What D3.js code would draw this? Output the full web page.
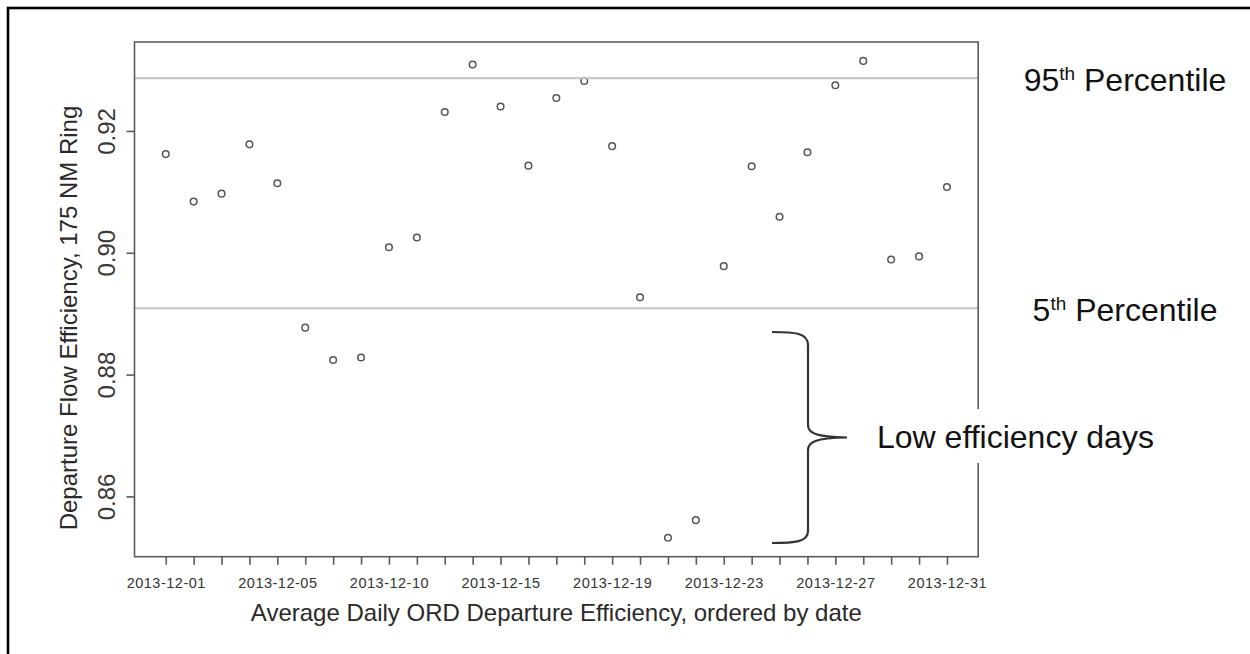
<!DOCTYPE html>
<html lang="en">
<head>
    <meta charset="UTF-8">
    <script src="https://d3js.org/d3.v7.min.js"></script>
    <title>ORD Departure Efficiency</title>
    <style>
        body { margin: 0; background: #fff; }
        svg { display: block; font-family: "Liberation Sans", Arial, sans-serif; }
    </style>
</head>
<body>
    <script>
        // dates, ordered (only every 4th one gets a label on the axis)
        var dates = ["2013-12-01", "2013-12-02", "2013-12-03", "2013-12-04", "2013-12-05",
            "2013-12-06", "2013-12-07", "2013-12-09", "2013-12-10", "2013-12-11",
            "2013-12-12", "2013-12-13", "2013-12-15", "2013-12-16", "2013-12-17",
            "2013-12-18", "2013-12-19", "2013-12-20", "2013-12-21", "2013-12-22",
            "2013-12-23", "2013-12-24", "2013-12-25", "2013-12-26", "2013-12-27",
            "2013-12-28", "2013-12-29", "2013-12-30", "2013-12-31"];

        var efficiency = [0.9162, 0.9084, 0.9097, 0.9178, 0.9114, 0.8877, 0.8824, 0.8828,
            0.9009, 0.9025, 0.9231, 0.9309, 0.9240, 0.9143, 0.9254, 0.9282, 0.9175,
            0.8927, 0.8532, 0.8561, 0.8978, 0.9142, 0.9059, 0.9165, 0.9275, 0.9315,
            0.8989, 0.8994, 0.9108];

        var yTicks = [0.86, 0.88, 0.90, 0.92];
        var labelEvery = 4;

        var percentiles = [
            { name: "95", value: 0.92865 },
            { name: "5", value: 0.8909 }
        ];

        var width = 1250,
            height = 654;

        var svg = d3.select("body").append("svg")
            .attr("width", width)
            .attr("height", height);

        // cadre noir (haut et gauche visibles)
        svg.append("rect")
            .attr("x", 8).attr("y", 8)
            .attr("width", 1300).attr("height", 700)
            .attr("fill", "none")
            .attr("stroke", "#000")
            .attr("stroke-width", 2.6);

        var box = { left: 134.5, right: 978.2, top: 42, bottom: 556.7 };

        // R-style 4% padding
        var n = dates.length - 1;
        var x = d3.scaleLinear()
            .domain([-0.04 * n, n + 0.04 * n])
            .range([box.left, box.right]);

        var y = d3.scaleLinear()
            .domain([0.8501, 0.9346])
            .range([box.bottom, box.top]);

        // points
        svg.append("g").selectAll("circle")
            .data(efficiency)
            .join("circle")
            .attr("cx", (d, i) => x(i))
            .attr("cy", d => y(d))
            .attr("r", 3.3)
            .attr("fill", "none")
            .attr("stroke", "#555")
            .attr("stroke-width", 1.5);

        // lignes des percentiles
        svg.append("g").selectAll("line")
            .data(percentiles)
            .join("line")
            .attr("x1", box.left).attr("x2", box.right)
            .attr("y1", d => y(d.value)).attr("y2", d => y(d.value))
            .attr("stroke", "#c4c4c4")
            .attr("stroke-width", 2);

        // boite
        svg.append("rect")
            .attr("x", box.left).attr("y", box.top)
            .attr("width", box.right - box.left).attr("height", box.bottom - box.top)
            .attr("fill", "none")
            .attr("stroke", "#5a5a5a")
            .attr("stroke-width", 1.6);

        // axe x
        var xAxis = d3.axisBottom(x)
            .tickValues(d3.range(dates.length))
            .tickFormat(i => i % labelEvery === 0 ? dates[i] : "")
            .tickSize(8)
            .tickPadding(13);

        var gx = svg.append("g")
            .attr("transform", `translate(0,${box.bottom})`)
            .call(xAxis);
        gx.select(".domain").remove();
        gx.selectAll(".tick line").attr("stroke", "#5a5a5a").attr("stroke-width", 1.6);
        gx.selectAll(".tick text")
            .attr("fill", "#333")
            .style("font-size", "14.5px")
            .style("letter-spacing", "0.5px")
            .style("font-family", "\"Liberation Sans\", Arial, sans-serif");

        // axe y
        var yAxis = d3.axisLeft(y)
            .tickValues(yTicks)
            .tickFormat(d3.format(".2f"))
            .tickSize(8);

        var gy = svg.append("g")
            .attr("transform", `translate(${box.left},0)`)
            .call(yAxis);
        gy.select(".domain").remove();
        gy.selectAll(".tick line").attr("stroke", "#5a5a5a").attr("stroke-width", 1.6);
        gy.selectAll(".tick text")
            .attr("x", null).attr("dy", null)
            .attr("transform", "translate(-20,0) rotate(-90)")
            .attr("text-anchor", "middle")
            .attr("fill", "#3a3a3a")
            .style("font-size", "24px")
            .style("font-family", "\"Liberation Sans\", Arial, sans-serif");

        // titres des axes
        svg.append("text")
            .attr("x", (box.left + box.right) / 2)
            .attr("y", 621)
            .attr("text-anchor", "middle")
            .attr("fill", "#2a2a2a")
            .style("font-size", "24px")
            .text("Average Daily ORD Departure Efficiency, ordered by date");

        svg.append("text")
            .attr("transform", "translate(77,318) rotate(-90)")
            .attr("text-anchor", "middle")
            .attr("fill", "#2a2a2a")
            .style("font-size", "24px")
            .text("Departure Flow Efficiency, 175 NM Ring");

        // étiquettes des percentiles
        var pl = svg.append("g").selectAll("text")
            .data(percentiles)
            .join("text")
            .attr("x", 1125)
            .attr("y", d => y(d.value) + 13)
            .attr("text-anchor", "middle")
            .attr("fill", "#111")
            .style("font-size", "32px");
        pl.append("tspan").text(d => d.name);
        pl.append("tspan").attr("dy", -11).style("font-size", "19px").text("th");
        pl.append("tspan").attr("dy", 11).text(" Percentile");

        // accolade + texte
        svg.append("path")
            .attr("d", "M772,332 C795,332 808,333 808,345 L808,425 C808,433 815,437 847,437.5 " +
                "C815,438 808,442 808,450 L808,531 C808,542 795,543 772,543")
            .attr("fill", "none")
            .attr("stroke", "#333")
            .attr("stroke-width", 2.2);

        svg.append("rect")
            .attr("x", 868).attr("y", 409)
            .attr("width", 295).attr("height", 54)
            .attr("fill", "#fff");

        svg.append("text")
            .attr("x", 877)
            .attr("y", 448)
            .attr("fill", "#111")
            .style("font-size", "32px")
            .text("Low efficiency days");
    </script>
</body>
</html>
